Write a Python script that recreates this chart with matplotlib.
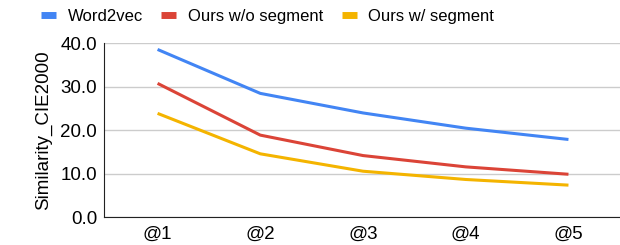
import numpy as np
import matplotlib
matplotlib.use("Agg")
import matplotlib.pyplot as plt

plt.rcParams['font.family'] = ['Liberation Sans', 'DejaVu Sans']

# Data
categories = ["@1", "@2", "@3", "@4", "@5"]
word2vec = [38.6, 28.5, 24.0, 20.5, 17.9]
ours_no_seg = [30.8, 18.9, 14.2, 11.6, 9.9]
ours_seg = [23.9, 14.6, 10.6, 8.7, 7.4]
yticks = [0, 10, 20, 30, 40]

series = [
    ("Word2vec", word2vec, "#4285F4"),
    ("Ours w/o segment", ours_no_seg, "#DB4437"),
    ("Ours w/ segment", ours_seg, "#F4B400"),
]

fig = plt.figure(figsize=(6.2, 2.45), dpi=100)
ax = fig.add_axes([0.168, 0.113, 0.84, 0.71])

x = np.arange(len(categories))
for name, vals, col in series:
    ax.plot(x, vals, color=col, lw=2.2, label=name, solid_capstyle="butt")

ax.set_xlim(-0.52, 4.55)
ax.set_ylim(0, 40)
ax.set_yticks(yticks)
ax.set_yticklabels([f"{v:.1f}" for v in yticks], fontsize=13.5)
ax.set_xticks(x)
ax.set_xticklabels(categories, fontsize=13.5)
ax.tick_params(length=0, pad=5)
ax.tick_params(axis="x", pad=6)
ax.grid(axis="y", color="#cccccc", lw=1)
ax.set_axisbelow(True)
for s in ["top", "right"]:
    ax.spines[s].set_visible(False)
ax.spines["left"].set_color("#222222")
ax.spines["bottom"].set_color("#222222")
ax.set_ylabel("Similarity_CIE2000", fontsize=13.5, labelpad=6)

handles, labels = ax.get_legend_handles_labels()
leg = fig.legend(handles, labels, loc="upper left", bbox_to_anchor=(0.042, 1.025),
                 ncol=3, frameon=False, fontsize=12, handlelength=0.9,
                 handletextpad=0.7, columnspacing=1.1)
for h in leg.get_lines():
    h.set_linewidth(5)

fig.savefig("out.png", dpi=100)
